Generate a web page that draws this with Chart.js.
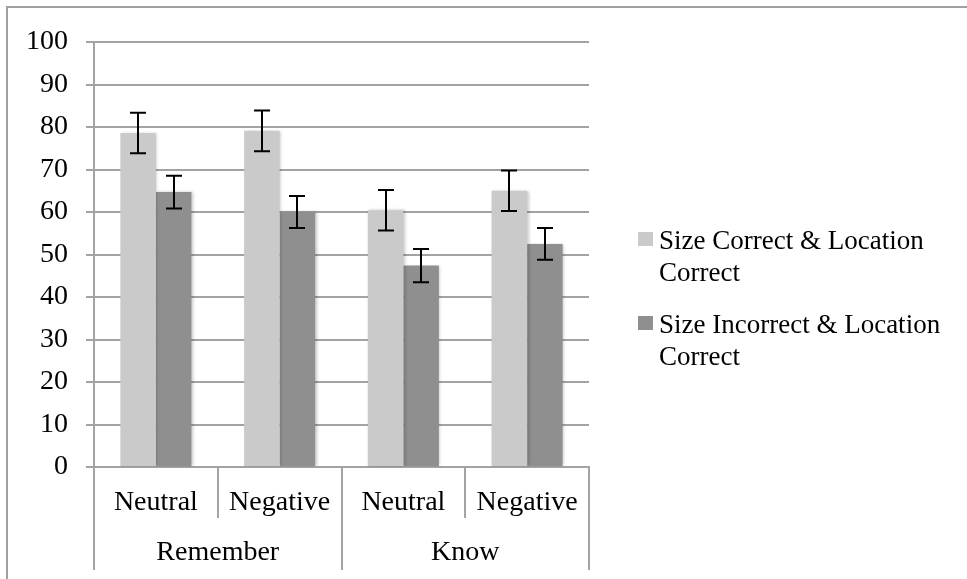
<!DOCTYPE html>
<html>
<head>
<meta charset="utf-8">
<script src="https://cdn.jsdelivr.net/npm/chart.js@4.4.1/dist/chart.umd.min.js"></script>
<style>
html,body{margin:0;padding:0;background:#fff;}
#wrap{width:967px;height:579px;position:relative;}
</style>
</head>
<body>
<div id="wrap"><canvas id="c" width="967" height="579"></canvas></div>
<script>
// ---- data ----
const conditions = ['Neutral', 'Negative', 'Neutral', 'Negative'];
const groups = ['Remember', 'Know'];
const seriesNames = ['Size Correct & Location Correct', 'Size Incorrect & Location Correct'];
const legendLines = [['Size Correct & Location', 'Correct'], ['Size Incorrect & Location', 'Correct']];
const sizeCorrect = [78.6, 79.1, 60.4, 65.0];
const sizeCorrectErr = [4.75, 4.8, 4.75, 4.75];
const sizeIncorrect = [64.7, 60.0, 47.4, 52.5];
const sizeIncorrectErr = [3.85, 3.75, 3.9, 3.75];
const yMin = 0, yMax = 100, yStep = 10;

const FONT = 'Liberation Serif';
const GRID = '#a3a3a3';
const errors = [sizeCorrectErr, sizeIncorrectErr];

const framePlugin = {
  id: 'frame',
  beforeDraw(chart) {
    const ctx = chart.ctx;
    ctx.save();
    ctx.strokeStyle = '#a0a0a0';
    ctx.lineWidth = 2;
    ctx.beginPath();
    ctx.moveTo(7, 579);
    ctx.lineTo(7, 7);
    ctx.lineTo(967, 7);
    ctx.stroke();
    ctx.restore();
  }
};

const barExtras = {
  id: 'barExtras',
  beforeDatasetsDraw(chart) {
    const ctx = chart.ctx;
    ctx.save();
    ctx.shadowColor = 'rgba(0,0,0,0.22)';
    ctx.shadowBlur = 3;
    ctx.shadowOffsetX = 1.5;
    ctx.shadowOffsetY = 0;
  },
  afterDatasetsDraw(chart) {
    const ctx = chart.ctx;
    ctx.restore();
    const y = chart.scales.y;
    ctx.save();
    ctx.strokeStyle = '#000';
    ctx.lineWidth = 2;
    chart.data.datasets.forEach((ds, di) => {
      const meta = chart.getDatasetMeta(di);
      meta.data.forEach((bar, i) => {
        const v = ds.data[i], e = errors[di][i];
        const yt = y.getPixelForValue(v + e);
        const yb = y.getPixelForValue(v - e);
        const x = Math.round(bar.x);
        ctx.beginPath();
        ctx.moveTo(x, yt); ctx.lineTo(x, yb);
        ctx.moveTo(x - 8, yt); ctx.lineTo(x + 8, yt);
        ctx.moveTo(x - 8, yb); ctx.lineTo(x + 8, yb);
        ctx.stroke();
      });
    });
    ctx.restore();
  }
};

const legendPlugin = {
  id: 'customLegend',
  afterDraw(chart) {
    const ctx = chart.ctx;
    ctx.save();
    ctx.font = '27px "' + FONT + '"';
    ctx.fillStyle = '#000';
    ctx.textBaseline = 'middle';
    ctx.textAlign = 'left';
    const startY = 242, itemGap = 84, lineH = 32;
    chart.data.datasets.forEach((ds, di) => {
      const yc = startY + di * itemGap;
      ctx.fillStyle = ds.backgroundColor;
      ctx.fillRect(638, yc - 10, 15, 14);
      ctx.fillStyle = '#000';
      legendLines[di].forEach((t, li) => ctx.fillText(t, 659, yc + li * lineH));
    });
    ctx.restore();
  }
};

const tickFont = { family: FONT, size: 28 };

new Chart(document.getElementById('c'), {
  type: 'bar',
  data: {
    labels: conditions,
    datasets: [
      { label: seriesNames[0], data: sizeCorrect, backgroundColor: '#cacaca', borderWidth: 0,
        categoryPercentage: 0.574, barPercentage: 1.0 },
      { label: seriesNames[1], data: sizeIncorrect, backgroundColor: '#8f8f8f', borderWidth: 0,
        categoryPercentage: 0.574, barPercentage: 1.0 }
    ]
  },
  options: {
    responsive: false,
    animation: false,
    devicePixelRatio: 1,
    layout: { padding: { left: 0, right: 378, top: 42, bottom: 9 } },
    plugins: { legend: { display: false }, tooltip: { enabled: false } },
    scales: {
      y: {
        min: yMin, max: yMax,
        ticks: { stepSize: yStep, padding: 18, color: '#000', font: tickFont },
        grid: { color: GRID, lineWidth: 2, tickLength: 8 },
        border: { color: GRID, width: 2 },
        afterFit(s) { s.width = 94; }
      },
      x: {
        position: 'bottom',
        offset: true,
        grid: { offset: true, drawOnChartArea: false, tickLength: 51, color: GRID, lineWidth: 2 },
        border: { color: GRID, width: 2 },
        ticks: { padding: -32, color: '#000', font: tickFont, maxRotation: 0, autoSkip: false },
        afterFit(s) { s.height = 51; }
      },
      x2: {
        type: 'category',
        labels: groups,
        position: 'bottom',
        offset: true,
        grid: { offset: true, drawOnChartArea: false, tickLength: 52, color: GRID, lineWidth: 2 },
        border: { display: false },
        ticks: { padding: -34, color: '#000', font: tickFont, maxRotation: 0, autoSkip: false },
        afterFit(s) { s.height = 52; }
      }
    }
  },
  plugins: [framePlugin, barExtras, legendPlugin]
});
</script>
</body>
</html>
